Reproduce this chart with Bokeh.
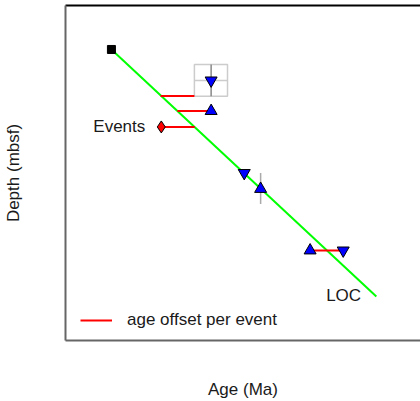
from bokeh.plotting import figure
from bokeh.models import Range1d, LinearAxis, FixedTicker, Legend, LegendItem
from bokeh.core.properties import value
from bokeh.embed import file_html
from bokeh.resources import INLINE

# ---- data ----
loc_age = [1.32, 8.76]
loc_depth = [105, 695]

up_age = [4.12, 5.51, 6.90]
up_depth = [252, 438, 585]
down_age = [4.12, 5.05, 7.83]
down_depth = [179, 400, 585]

offset_from = [2.70, 3.17, 2.72, 6.90]
offset_to = [3.65, 4.12, 3.66, 7.83]
offset_depth = [216, 252, 290, 585]

event_age = [2.72]
event_depth = [290]

box_left = [3.65]
box_right = [4.58]
box_top = [141]
box_bottom = [217]
box_age = [4.12]
box_depth = [179]

err_age = [5.51]
err_top = [400]
err_bottom = [474]

loc_label_age = [7.35]
loc_label_depth = [692]

FONT = "Liberation Sans"

p = figure(width=420, height=401, output_backend="svg", toolbar_location=None,
           x_range=Range1d(0.03, 10.0), y_range=Range1d(800, 0),
           min_border_left=65, min_border_right=0, min_border_top=5, min_border_bottom=60,
           x_axis_label="Age (Ma)", y_axis_label="Depth (mbsf)")
p.grid.visible = False
p.outline_line_color = None
p.background_fill_color = "white"
p.border_fill_color = "white"

for ax in [p.xaxis[0], p.yaxis[0]]:
    ax.ticker = FixedTicker(ticks=[])
    ax.major_tick_out = 0
    ax.major_tick_in = 0
    ax.minor_tick_out = 0
    ax.minor_tick_in = 0
    ax.major_label_standoff = 0
    ax.axis_line_color = "#666666"
    ax.axis_line_width = 2
    ax.axis_label_text_font = FONT
    ax.axis_label_text_font_size = "17px"
    ax.axis_label_text_font_style = "normal"
    ax.axis_label_text_color = "#1a1a1a"
p.xaxis[0].axis_label_standoff = 39
p.yaxis[0].axis_label_standoff = 43

top = LinearAxis(ticker=FixedTicker(ticks=[]), major_tick_out=0, major_tick_in=0,
                 minor_tick_out=0, minor_tick_in=0, major_label_standoff=0,
                 axis_line_color="black", axis_line_width=2)
p.add_layout(top, "above")

# uncertainty box and cross
p.quad(left=box_left, right=box_right, top=box_top, bottom=box_bottom,
       fill_color=None, line_color="#cccccc", line_width=1.5)
p.segment(x0=box_age, x1=box_age, y0=box_top, y1=box_bottom, line_color="#888888", line_width=1.5)
p.segment(x0=box_left, x1=box_right, y0=box_depth, y1=box_depth, line_color="#cccccc", line_width=1.5)
p.segment(x0=err_age, x1=err_age, y0=err_top, y1=err_bottom, line_color="#aaaaaa", line_width=1.5)

# line of correlation
p.line(loc_age, loc_depth, line_color="#00ff00", line_width=2)

# offsets
off = p.segment(x0=offset_from, x1=offset_to, y0=offset_depth, y1=offset_depth,
                line_color="#ff0000", line_width=2)

# markers
p.scatter([loc_age[0]], [loc_depth[0]], marker="square", size=8, fill_color="black", line_color="black")
p.scatter(up_age, up_depth, marker="triangle", size=12, fill_color="blue", line_color="black", line_width=1)
p.scatter(down_age, down_depth, marker="inverted_triangle", size=12, fill_color="blue", line_color="black", line_width=1)
p.scatter(event_age, event_depth, marker="diamond", size=12, fill_color="red", line_color="black", line_width=1)

p.text(x=event_age, y=event_depth, text=["Events"], x_offset=-16, text_align="right",
       text_baseline="middle", text_font=value(FONT), text_font_size="17px", text_color="#1a1a1a")
p.text(x=loc_label_age, y=loc_label_depth, text=["LOC"], text_align="left",
       text_baseline="middle", text_font=value(FONT), text_font_size="17px", text_color="#1a1a1a")

legend = Legend(items=[LegendItem(label="age offset per event", renderers=[off])],
                location=(15, 10), padding=0, margin=0, spacing=0,
                glyph_width=32, glyph_height=20, label_standoff=15,
                border_line_color=None, background_fill_alpha=0,
                label_text_font=FONT, label_text_font_size="17px", label_text_color="#1a1a1a")
p.add_layout(legend, "center")

open("out.html", "w").write(file_html(p, INLINE))
